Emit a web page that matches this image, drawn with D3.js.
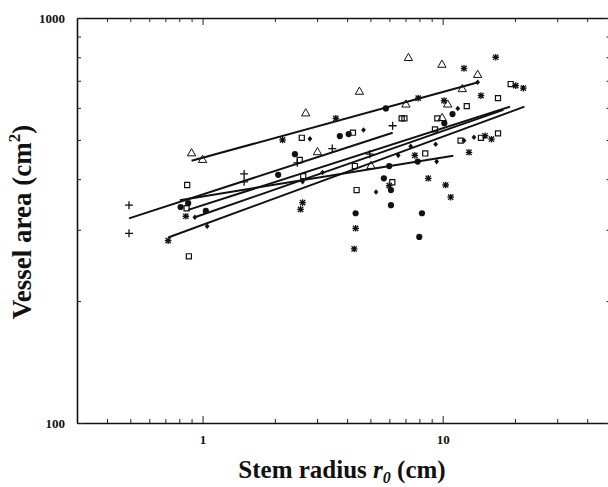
<!DOCTYPE html>
<html>
<head>
<meta charset="utf-8">
<script src="https://cdn.jsdelivr.net/npm/d3@7"></script>
<style>
  body { margin: 0; background: #fff; }
  svg { display: block; }
  text { font-family: "Liberation Serif", "Times New Roman", serif; font-weight: bold; fill: #111; }
</style>
</head>
<body>
<svg id="chart" width="608" height="487"></svg>
<script>
// tick values
const xMajorTicks = [1, 10];
const xMinorTicks = [0.4, 0.5, 0.6, 0.7, 0.8, 0.9, 2, 3, 4, 5, 6, 7, 8, 9, 20, 30, 40];
const yMajorTicks = [100, 1000];
const yMinorTicks = [200, 300, 400, 500, 600, 700, 800, 900];

// data points [stem radius, vessel area]
const triangles = [[0.90, 463], [1.0, 446], [2.69, 581], [3.01, 466], [4.50, 657], [5.03, 431],
  [7.03, 611], [7.2, 796], [9.93, 766], [9.95, 566], [10.49, 611], [12.07, 667], [13.99, 723]];
const squares = [[0.863, 387], [0.858, 339], [0.877, 258], [2.54, 446], [2.59, 506], [2.625, 407],
  [4.23, 521], [4.31, 431], [4.38, 376], [6.17, 393], [6.75, 565], [6.93, 565], [8.46, 463],
  [9.29, 531], [9.50, 565], [11.87, 498], [12.6, 606], [14.44, 506], [17.0, 519], [17.0, 634], [19.2, 687]];
const circles = [[0.81, 341.5], [0.871, 349], [1.032, 334], [2.065, 410], [2.425, 461], [3.73, 511],
  [4.06, 517], [4.34, 329.5], [5.69, 402], [5.80, 598], [5.99, 431], [6.09, 376], [6.09, 345],
  [7.87, 442], [7.99, 288], [8.2, 329.5], [10.16, 550], [10.99, 579]];
const diamonds = [[0.929, 322], [1.045, 306], [2.61, 394], [2.80, 503], [3.16, 415.5], [4.68, 529],
  [5.28, 372], [6.53, 458], [7.36, 482], [9.35, 488], [9.44, 442], [11.56, 598], [12.27, 498],
  [13.5, 507.5], [13.99, 694]];
const asterisks = [[0.719, 282], [0.852, 324], [2.154, 500], [2.56, 337], [2.61, 350], [3.59, 565],
  [4.28, 269], [4.34, 302.5], [5.99, 385.5], [7.66, 458], [7.91, 634], [8.71, 402], [10.13, 625],
  [10.29, 387], [10.8, 361], [12.27, 751], [12.87, 466], [14.44, 643], [15.01, 512], [15.97, 502],
  [16.63, 800], [20.15, 681], [21.67, 671]];
const pluses = [[0.494, 345], [0.494, 294], [1.49, 412], [1.49, 394], [2.48, 439], [3.47, 476],
  [4.97, 461], [6.19, 542]];

// fitted lines, end points
const fitTriangles = [[0.90, 444], [14.07, 694]];
const fitPluses = [[0.494, 320], [6.19, 521]];
const fitAsterisks = [[0.719, 287], [21.9, 604]];
const fitDiamonds = [[0.929, 322], [17.9, 593]];
const fitSquares = [[0.871, 336], [19.07, 604]];
const fitCircles = [[0.804, 355], [11.07, 457]];

const svg = d3.select("#chart");

const x = d3.scaleLog().domain([0.3, 50]).range([77, 610.5]);
const y = d3.scaleLog().domain([100, 1000]).range([423, 18]);

// axes, ticks pointing inward
function drawAxis(axisFn, scale, transform, major, minor, withLabels) {
  const g = svg.append("g").attr("transform", transform);
  g.call(axisFn(scale).tickValues(minor).tickSize(-4).tickSizeOuter(0).tickFormat(""));
  const g2 = svg.append("g").attr("transform", transform);
  g2.call(axisFn(scale).tickValues(major).tickSize(-7).tickSizeOuter(0)
    .tickPadding(withLabels ? 12 : 0)
    .tickFormat(withLabels ? d3.format("d") : ""));
  g2.select(".domain").remove();
  [g, g2].forEach(s => {
    s.selectAll("line").attr("stroke", "#222").attr("stroke-width", 1);
    s.selectAll(".domain").attr("stroke", "#111").attr("stroke-width", 1.6);
    s.selectAll("text").attr("font-size", 13).attr("font-family", null);
  });
  return g2;
}

drawAxis(d3.axisBottom, x, "translate(0,423)", xMajorTicks, xMinorTicks, true);
drawAxis(d3.axisTop, x, "translate(0,18)", xMajorTicks, xMinorTicks, false);
drawAxis(d3.axisLeft, y, "translate(77,0)", yMajorTicks, yMinorTicks, true);
drawAxis(d3.axisRight, y, "translate(610.5,0)", yMajorTicks, yMinorTicks, false);

// fitted lines
const line = d3.line().x(d => x(d[0])).y(d => y(d[1]));
[fitTriangles, fitPluses, fitAsterisks, fitDiamonds, fitSquares, fitCircles].forEach(fit => {
  svg.append("path")
    .datum(fit)
    .attr("fill", "none")
    .attr("stroke", "#111")
    .attr("stroke-width", 2)
    .attr("d", line);
});

// custom symbols (size = half width in px)
const plusType = {
  draw(ctx, size) {
    const r = size;
    ctx.moveTo(-r, 0); ctx.lineTo(r, 0);
    ctx.moveTo(0, -r); ctx.lineTo(0, r);
  }
};
const starType = {
  draw(ctx, size) {
    const r = size, s = size * 0.8;
    ctx.moveTo(-r, 0); ctx.lineTo(r, 0);
    ctx.moveTo(0, -r); ctx.lineTo(0, r);
    ctx.moveTo(-s, -s); ctx.lineTo(s, s);
    ctx.moveTo(-s, s); ctx.lineTo(s, -s);
  }
};
const diamondType = {
  draw(ctx, size) {
    ctx.moveTo(0, -size); ctx.lineTo(size * 0.85, 0);
    ctx.lineTo(0, size); ctx.lineTo(-size * 0.85, 0);
    ctx.closePath();
  }
};

function drawPoints(data, type, size, fill, stroke, strokeWidth) {
  svg.append("g")
    .selectAll("path")
    .data(data)
    .join("path")
    .attr("transform", d => `translate(${x(d[0])},${y(d[1])})`)
    .attr("d", d3.symbol().type(type).size(size))
    .attr("fill", fill)
    .attr("stroke", stroke)
    .attr("stroke-width", strokeWidth);
}

drawPoints(triangles, d3.symbolTriangle, 30, "none", "#111", 1);
drawPoints(squares, d3.symbolSquare, 26, "none", "#111", 1.2);
drawPoints(circles, d3.symbolCircle, 30, "#111", "none", 0);
drawPoints(diamonds, diamondType, 2.8, "#111", "none", 0);
drawPoints(asterisks, starType, 3.3, "none", "#111", 1.3);
drawPoints(pluses, plusType, 4, "none", "#111", 1.3);

// axis titles
svg.append("text")
  .attr("transform", "translate(31,222) rotate(-90)")
  .attr("text-anchor", "middle")
  .attr("font-size", 27)
  .call(t => {
    t.append("tspan").text("Vessel area (cm");
    t.append("tspan").attr("font-size", 17).attr("dy", -11).text("2");
    t.append("tspan").attr("dy", 11).text(")");
  });

svg.append("text")
  .attr("x", 342)
  .attr("y", 478)
  .attr("text-anchor", "middle")
  .attr("font-size", 25)
  .call(t => {
    t.append("tspan").text("Stem radius ");
    t.append("tspan").attr("font-style", "italic").text("r");
    t.append("tspan").attr("font-style", "italic").attr("font-size", 16).attr("dy", 5).text("0");
    t.append("tspan").attr("dy", -5).text(" (cm)");
  });
</script>
</body>
</html>
